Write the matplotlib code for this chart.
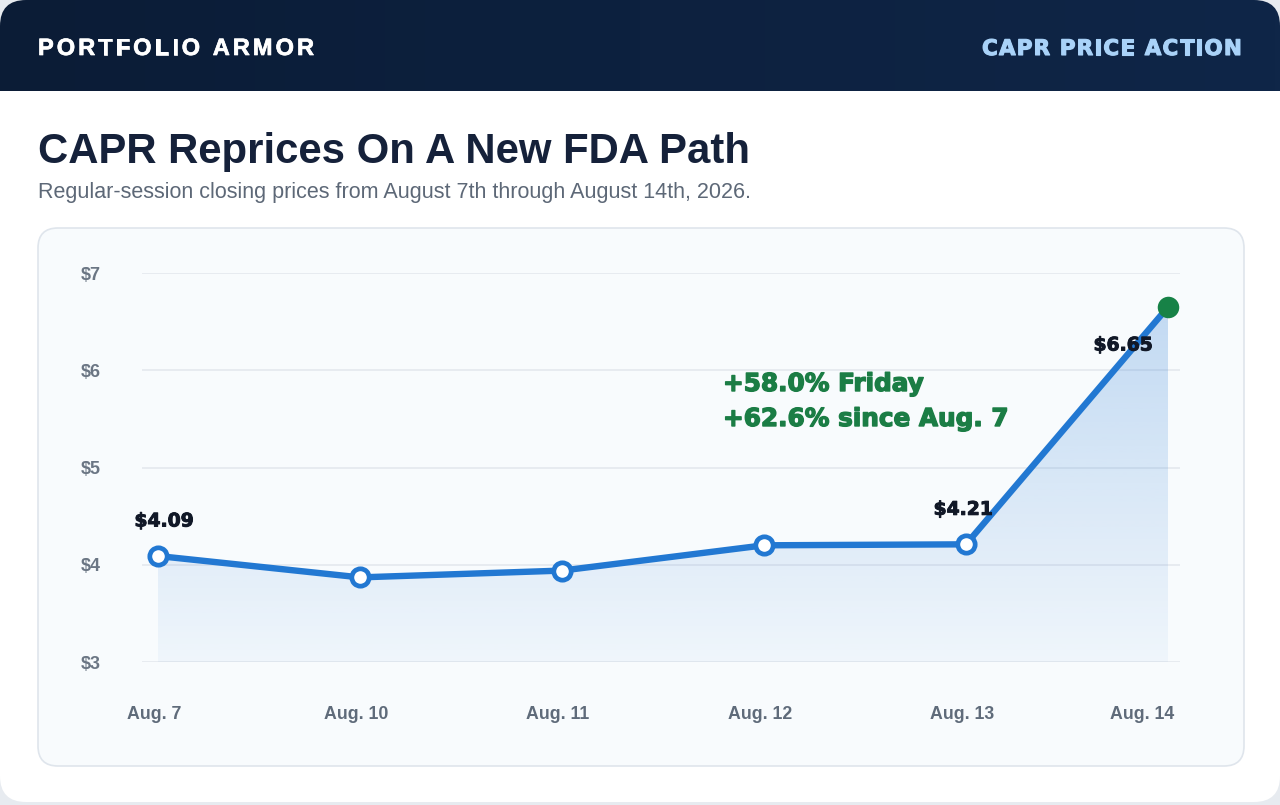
import numpy as np
import matplotlib
matplotlib.use("Agg")
import matplotlib.pyplot as plt
from matplotlib.patches import FancyBboxPatch, PathPatch
from matplotlib.transforms import ScaledTranslation
import matplotlib.patheffects as pe

# ---------------- data ----------------
dates = ["Aug. 7", "Aug. 10", "Aug. 11", "Aug. 12", "Aug. 13", "Aug. 14"]
closes = [4.09, 3.87, 3.94, 4.20, 4.21, 6.65]
labeled_idx = [0, 4, 5]
yticks = [3, 4, 5, 6, 7]
ytick_labels = ["$3", "$4", "$5", "$6", "$7"]

brand = "PORTFOLIO ARMOR"
tag = "CAPR PRICE ACTION"
title = "CAPR Reprices On A New FDA Path"
subtitle = "Regular-session closing prices from August 7th through August 14th, 2026."

W, H = 1280, 805
fig = plt.figure(figsize=(W / 100, H / 100), dpi=100)
fig.patch.set_facecolor("#e7ebf0")

bg = fig.add_axes([0, 0, 1, 1])
bg.set_xlim(0, W)
bg.set_ylim(H, 0)
bg.axis("off")

# card
card = FancyBboxPatch((0, 0), W, H - 3, boxstyle="round,pad=0,rounding_size=26",
                      fc="white", ec="none", zorder=0)
bg.add_patch(card)

# header with horizontal gradient
hdr = FancyBboxPatch((0, 0), W, 91, boxstyle="round,pad=0,rounding_size=26",
                     fc="none", ec="none", zorder=1)
bg.add_patch(hdr)
c0 = np.array([11, 28, 54]) / 255
c1 = np.array([15, 38, 72]) / 255
g = np.linspace(0, 1, 256)[None, :, None]
grad = c0 * (1 - g) + c1 * g
im1 = bg.imshow(grad, extent=[0, W, 91, 0], aspect="auto", zorder=1)
im1.set_clip_path(hdr)
bg.imshow(grad, extent=[0, W, 91, 50], aspect="auto", zorder=1)
bg.set_xlim(0, W)
bg.set_ylim(H, 0)

renderer = fig.canvas.get_renderer()


def text_width(s, **kw):
    t = bg.text(0, 0, s, **kw)
    w = t.get_window_extent(renderer).width
    t.remove()
    return w


def spaced_text(x0, x1, ybase, s, effects=None, **kw):
    wII = text_width("II", **kw)
    widths = [(text_width("I I", **kw) - wII) if ch == " " else text_width(ch, **kw) for ch in s]
    gap = (x1 - x0 - sum(widths)) / (len(s) - 1)
    x = x0
    for ch, cw in zip(s, widths):
        if ch != " ":
            t = bg.text(x, ybase, ch, ha="left", va="baseline", zorder=3, **kw)
            if effects:
                t.set_path_effects(effects)
        x += cw + gap


def heavy(color, lw=1.0):
    return [pe.withStroke(linewidth=lw, foreground=color)]


spaced_text(38, 314, 55, brand, fontsize=17, color="white",
            family="Liberation Sans", weight="bold", effects=heavy("white", 0.5))
spaced_text(982, 1242, 55, tag, fontsize=15.5, color="#a9d2f8",
            family="DejaVu Sans", weight="bold", effects=heavy("#a9d2f8", 0.8))

bg.text(38, 163, title, fontsize=30.2, weight="bold", color="#15213a",
        family="Liberation Sans", ha="left", va="baseline", zorder=3)
bg.text(38, 198, subtitle, fontsize=15.5, color="#5d6877",
        family="Liberation Sans", ha="left", va="baseline", zorder=3)

# panel
panel = FancyBboxPatch((38, 228), 1206, 538, boxstyle="round,pad=0,rounding_size=20",
                       fc="#f8fbfd", ec="#dfe5ec", lw=1.2, zorder=1)
bg.add_patch(panel)

# annotation
pct_fri = (closes[-1] / closes[-2] - 1) * 100
pct_all = (closes[-1] / closes[0] - 1) * 100
green = "#1b7d45"
for ybase, txt in [(391, f"+{pct_fri:.1f}% Friday"),
                   (426, f"+{pct_all:.1f}% since {dates[0]}")]:
    t = bg.text(723, ybase, txt, fontsize=17.8, weight="bold", color=green,
                family="DejaVu Sans", ha="left", va="baseline", zorder=5)
    t.set_path_effects(heavy(green, 1.0))

# ---------------- chart ----------------
ax = fig.add_axes([142 / W, (H - 662) / H, (1180 - 142) / W, (662 - 273) / H])
ax.set_facecolor("none")
x = np.arange(len(dates))
step, x0px = 202.0, 158.0
xlim = ((142 - x0px) / step, (1180 - x0px) / step)

blue = "#2278d2"
fb = ax.fill_between(x, closes, 3, color="none", lw=0)
clip = PathPatch(fb.get_paths()[0], transform=ax.transData, fc="none", ec="none")
ax.add_patch(clip)
alpha = np.linspace(0.044, 0.29, 256)
rgba = np.zeros((256, 1, 4))
rgba[..., 0], rgba[..., 1], rgba[..., 2] = 47 / 255, 127 / 255, 214 / 255
rgba[:, 0, 3] = alpha
im = ax.imshow(rgba, extent=[xlim[0], xlim[1], 3, 7], origin="lower",
               aspect="auto", zorder=1, interpolation="bilinear")
im.set_clip_path(clip)

ax.plot(x, closes, color=blue, lw=4.6, zorder=3, solid_joinstyle="round",
        solid_capstyle="round")
ax.plot(x[:-1], closes[:-1], "o", ms=12.5, mfc="white", mec=blue, mew=3.4, zorder=4)
ax.plot(x[-1:], closes[-1:], "o", ms=15.5, mfc="#178247", mec="#178247", mew=0, zorder=5)

offsets = {0: (6, 35), 4: (-3, 35), 5: (-45, -38)}
for i in labeled_idx:
    dx, dy = offsets[i]
    a = ax.annotate(f"${closes[i]:.2f}", (x[i], closes[i]), xytext=(dx * 0.72, dy * 0.72),
                    textcoords="offset points", ha="center", va="center",
                    fontsize=13.5, weight="bold", color="#111827", family="DejaVu Sans",
                    zorder=6)
    a.set_path_effects(heavy("#111827", 0.7))

ax.set_xlim(*xlim)
ax.set_ylim(3, 7)
ax.set_yticks(yticks)
ax.set_yticklabels(ytick_labels)
ax.set_xticks(x)
ax.set_xticklabels(dates)
for s in ax.spines.values():
    s.set_visible(False)
ax.yaxis.grid(True, color="#e2e7ed", lw=1.1, zorder=0)
ax.set_axisbelow(True)
ax.tick_params(axis="both", length=0, labelcolor="#5f6b7a")
ax.tick_params(axis="y", pad=30)
ax.tick_params(axis="x", pad=31.5)
xlabs = ax.get_xticklabels()
for k, lab in enumerate(xlabs):
    lab.set_fontsize(12.8)
    lab.set_fontweight("bold")
    lab.set_family("Liberation Sans")
    shift = -26 if k == len(xlabs) - 1 else -4
    lab.set_transform(lab.get_transform() + ScaledTranslation(shift / 100, 0, fig.dpi_scale_trans))
for lab in ax.get_yticklabels():
    lab.set_fontsize(13)
    lab.set_fontweight("bold")
    lab.set_family("Liberation Sans")
    lab.set_color("#6b7684")

fig.savefig("out.png", dpi=100, facecolor=fig.get_facecolor())
